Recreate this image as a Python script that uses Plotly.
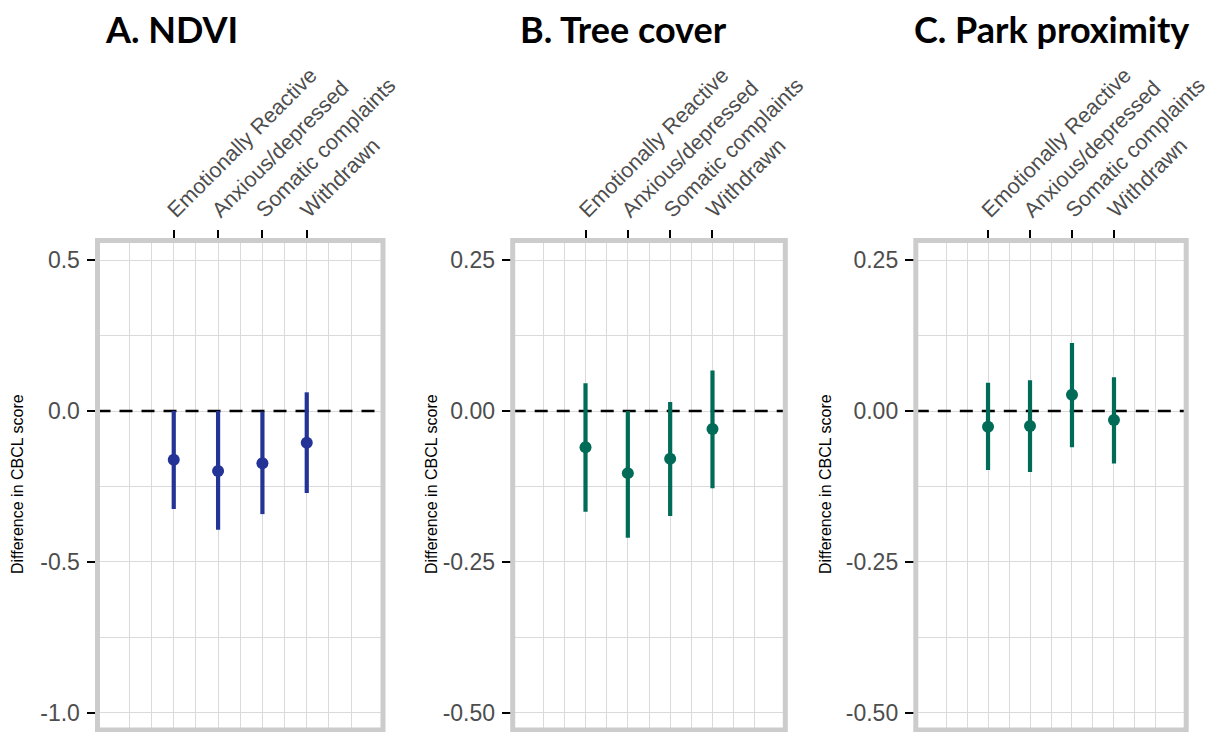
import plotly.graph_objects as go

# ---------------- data ----------------
categories = ["Emotionally Reactive", "Anxious/depressed", "Somatic complaints", "Withdrawn"]
cat_pos = [1, 2, 3, 4]

panel_titles = ["A. NDVI", "B. Tree cover", "C. Park proximity"]

ndvi_est = [-0.162, -0.199, -0.173, -0.105]
ndvi_lo = [-0.325, -0.394, -0.342, -0.272]
ndvi_hi = [0.000, 0.000, -0.002, 0.062]

tree_est = [-0.060, -0.103, -0.079, -0.030]
tree_lo = [-0.167, -0.210, -0.174, -0.128]
tree_hi = [0.046, 0.000, 0.015, 0.067]

park_est = [-0.026, -0.025, 0.027, -0.015]
park_lo = [-0.098, -0.101, -0.060, -0.087]
park_hi = [0.047, 0.051, 0.113, 0.056]

ytick_a_vals = [0.5, 0.0, -0.5, -1.0]
ytick_a_text = ["0.5", "0.0", "-0.5", "-1.0"]
yminor_a = [0.25, -0.25, -0.75]
ytick_bc_vals = [0.25, 0.0, -0.25, -0.5]
ytick_bc_text = ["0.25", "0.00", "-0.25", "-0.50"]
yminor_bc = [0.125, -0.125, -0.375]
xgrid_vals = [0, 0.5, 1, 1.5, 2, 2.5, 3, 3.5, 4, 4.5, 5]

y_title = "Difference in CBCL score"

# ---------------- style ----------------
W, H = 1209, 732
BLUE = "#243496"
GREEN = "#006b57"
GRID = "#dadada"
FRAME = "#cccccc"
TICKTXT = "#4d4d4d"
FONT = "Liberation Sans, Arial, sans-serif"

x_range = [-0.72, 5.72]
y_range_a = [-1.058, 0.5655]
y_range_bc = [-0.529, 0.2828]

dom_y = [1 - 730 / H, 1 - 240.5 / H]
dom_x = [[97.5 / W, 383 / W], [512.7 / W, 785.3 / W], [915.8 / W, 1186.2 / W]]

panels = [
    (ndvi_est, ndvi_lo, ndvi_hi, BLUE, y_range_a, ytick_a_vals, ytick_a_text, yminor_a),
    (tree_est, tree_lo, tree_hi, GREEN, y_range_bc, ytick_bc_vals, ytick_bc_text, yminor_bc),
    (park_est, park_lo, park_hi, GREEN, y_range_bc, ytick_bc_vals, ytick_bc_text, yminor_bc),
]

fig = go.Figure()
layout = dict(
    width=W, height=H,
    margin=dict(l=0, r=0, t=0, b=0),
    paper_bgcolor="white", plot_bgcolor="white",
    showlegend=False,
    font=dict(family=FONT),
)
shapes = []
annotations = []

for i, (est, lo, hi, col, yr, yt, ytt, ymin) in enumerate(panels):
    sx = "" if i == 0 else str(i + 1)
    xa, ya = "x" + sx, "y" + sx
    # dashed zero reference line (drawn under the point ranges)
    fig.add_trace(go.Scatter(
        x=x_range, y=[0, 0], mode="lines",
        line=dict(color="black", width=2.6, dash="13px,9px"),
        xaxis=xa, yaxis=ya, hoverinfo="skip", cliponaxis=False,
    ))
    fig.add_trace(go.Scatter(
        x=cat_pos, y=est, mode="markers",
        marker=dict(color=col, size=12),
        error_y=dict(type="data", symmetric=False,
                     array=[h - e for h, e in zip(hi, est)],
                     arrayminus=[e - l for e, l in zip(est, lo)],
                     color=col, thickness=4.2, width=0),
        xaxis=xa, yaxis=ya, cliponaxis=False,
    ))
    layout["xaxis" + sx] = dict(
        domain=dom_x[i], range=x_range, anchor=ya, side="top",
        tickvals=cat_pos, ticktext=categories, tickangle=-45,
        ticks="outside", ticklen=10, tickwidth=2, tickcolor="black",
        tickfont=dict(size=21.5, color=TICKTXT, family=FONT),
        showgrid=True, gridcolor=GRID, gridwidth=1.3,
        minor=dict(tickvals=xgrid_vals, showgrid=True, gridcolor=GRID, gridwidth=1.3, ticks=""),
        showline=False, zeroline=False, fixedrange=True, automargin=False,
        ticklabelstandoff=-1, ticklabelshift=-5, ticklabeloverflow="allow",
    )
    layout["yaxis" + sx] = dict(
        domain=dom_y, range=yr, anchor=xa,
        tickvals=yt, ticktext=ytt,
        ticks="outside", ticklen=10, tickwidth=2, tickcolor="black",
        tickfont=dict(size=23, color=TICKTXT, family=FONT),
        showgrid=True, gridcolor=GRID, gridwidth=1.3,
        minor=dict(tickvals=ymin, showgrid=True, gridcolor=GRID, gridwidth=1.3, ticks=""),
        showline=False, zeroline=False, fixedrange=True, automargin=False,
        ticklabelstandoff=2, ticklabeloverflow="allow",
    )
    # panel frame
    shapes.append(dict(type="rect", xref=xa + " domain", yref=ya + " domain", x0=0, x1=1, y0=0, y1=1,
                       line=dict(color=FRAME, width=5), layer="above"))
    # panel title
    annotations.append(dict(text="<b>%s</b>" % panel_titles[i], xref="paper", yref="paper",
                            x=[171 / W, 623 / W, 1051 / W][i], y=1 - 29 / H,
                            xanchor="center", yanchor="middle", showarrow=False,
                            font=dict(family="Lato, Carlito, sans-serif", size=36, color="black")))
    # y-axis title
    annotations.append(dict(text=y_title, xref="paper", yref="paper",
                            x=[18 / W, 432 / W, 826 / W][i], y=1 - 484 / H,
                            xanchor="center", yanchor="middle", textangle=-90, showarrow=False,
                            font=dict(family=FONT, size=16, color="black")))

layout["shapes"] = shapes
layout["annotations"] = annotations
fig.update_layout(**layout)
fig.write_html("out.html", config={"displayModeBar": False},
               post_script="document.body.style.margin='0';")
